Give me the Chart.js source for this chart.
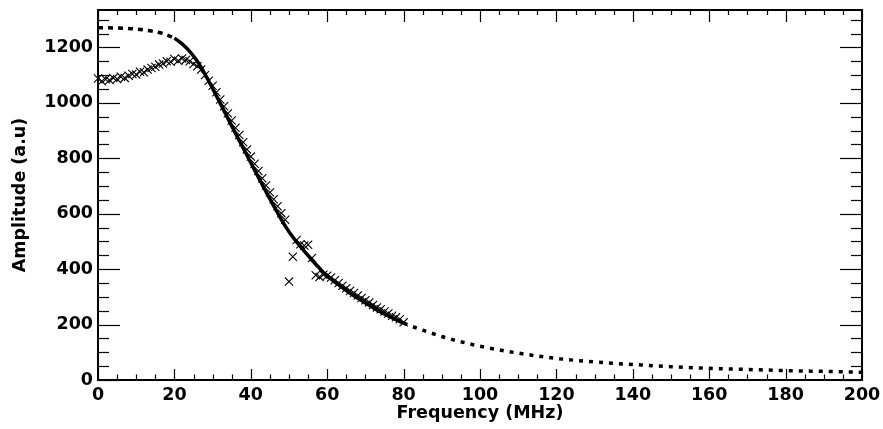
<!DOCTYPE html>
<html>
<head>
<meta charset="utf-8">
<script src="https://cdn.jsdelivr.net/npm/chart.js@4"></script>
<style>
  html, body { margin: 0; padding: 0; background: #fff; }
  #wrap { width: 883px; height: 429px; }
</style>
</head>
<body>
<div id="wrap"><canvas id="chart" width="883" height="429"></canvas></div>
<script>
// measured spectrum (one point per MHz)
const freq = [
  0, 1, 2, 3, 4, 5, 6, 7, 8, 9, 10, 11, 12, 13, 14, 15, 16, 17, 18, 19, 20,
  21, 22, 23, 24, 25, 26, 27, 28, 29, 30, 31, 32, 33, 34, 35, 36, 37, 38, 39, 40,
  41, 42, 43, 44, 45, 46, 47, 48, 49, 50, 51, 52, 53, 54, 55, 56, 57, 58, 59, 60,
  61, 62, 63, 64, 65, 66, 67, 68, 69, 70, 71, 72, 73, 74, 75, 76, 77, 78, 79, 80
];
const amp = [
  1088, 1078, 1085, 1082, 1090, 1086, 1094, 1090, 1098, 1104, 1102, 1112, 1110, 1120, 1126, 1130, 1138, 1142, 1150, 1148, 1158,
  1152, 1160, 1155, 1150, 1140, 1132, 1120, 1100, 1080, 1062, 1038, 1012, 988, 962, 936, 910, 884, 858, 832, 806,
  780, 754, 728, 702, 677, 652, 627, 602, 578, 355, 445, 505, 490, 485, 488, 440, 378, 372, 380, 376,
  370, 360, 350, 340, 331, 322, 314, 305, 296, 288, 280, 271, 262, 255, 247, 240, 232, 226, 219, 208
];

// fitted response curve
const fitFreq = [0, 5, 10, 14, 17, 20, 22, 24, 26, 28, 30, 32, 34, 36, 38, 40, 42, 44, 46, 48, 50,
  52, 54, 56, 58, 60, 63, 66, 70, 73, 76, 80, 85, 90, 95, 100, 110, 120, 130, 140, 150, 160, 170, 180, 190, 200];
const fitAmp = [1271, 1270, 1266, 1259, 1250, 1233, 1213, 1186, 1150, 1104, 1052, 998, 944, 890, 837, 784, 731, 679, 628, 579, 535,
  498, 465, 433, 403, 375, 343, 313, 278, 253, 231, 205, 180, 157, 138, 122, 97, 78, 65, 56, 48, 42, 38, 34, 31, 28];

// fit is solid only over the fitted range
const FIT_LO = 20;
const FIT_HI = 80;

const xTicks = [0, 20, 40, 60, 80, 100, 120, 140, 160, 180, 200];
const yTicks = [0, 200, 400, 600, 800, 1000, 1200];

const X_MIN = 0, X_MAX = 200, Y_MIN = 0, Y_MAX = 1335;

Chart.defaults.font.family = "'DejaVu Sans', sans-serif";
Chart.defaults.font.weight = 'bold';
Chart.defaults.font.size = 17.5;
Chart.defaults.color = '#000';

// ROOT style frame with inward ticks on all four sides
const frameTicks = {
  id: 'frameTicks',
  afterDraw(chart) {
    const { ctx, chartArea: a, scales: { x, y } } = chart;
    const seg = (x1, y1, x2, y2) => {
      ctx.beginPath();
      ctx.moveTo(x1, y1);
      ctx.lineTo(x2, y2);
      ctx.stroke();
    };
    ctx.save();
    ctx.strokeStyle = '#000';
    ctx.lineWidth = 1.2;
    for (let v = X_MIN; v <= X_MAX; v += 5) {
      const px = Math.round(x.getPixelForValue(v)) + 0.5;
      const major = v % 20 === 0;
      seg(px, a.bottom, px, a.bottom - (major ? 11 : 5.5));
      seg(px, a.top, px, a.top + (major ? 12 : 5));
    }
    for (let v = Y_MIN; v <= Y_MAX; v += 50) {
      const py = Math.round(y.getPixelForValue(v)) + 0.5;
      const major = v % 200 === 0;
      seg(a.left, py, a.left + (major ? 22 : 11), py);
      seg(a.right, py, a.right - (major ? 22 : 11), py);
    }
    ctx.lineWidth = 2;
    ctx.strokeRect(a.left, a.top, a.right - a.left, a.bottom - a.top);
    ctx.restore();
  }
};

const ctx = document.getElementById('chart');
new Chart(ctx, {
  type: 'scatter',
  data: {
    datasets: [
      {
        label: 'fit',
        type: 'line',
        data: fitFreq.map((f, i) => ({ x: f, y: fitAmp[i] })),
        borderColor: '#000',
        borderWidth: 3.5,
        borderCapStyle: 'butt',
        pointRadius: 0,
        cubicInterpolationMode: 'monotone',
        fill: false,
        segment: {
          borderDash: c => {
            const x0 = c.p0.parsed.x;
            if (x0 < FIT_LO) return [5, 5];
            if (x0 >= FIT_HI) return [4, 6];
            return [];
          }
        }
      },
      {
        label: 'data',
        data: freq.map((f, i) => ({ x: f, y: amp[i] })),
        pointStyle: 'crossRot',
        pointRadius: 5.8,
        pointBorderWidth: 1.1,
        borderColor: '#000',
        backgroundColor: '#000',
        clip: false
      }
    ]
  },
  options: {
    responsive: false,
    animation: false,
    layout: { padding: { top: 10, right: 21, left: 0, bottom: 0 } },
    plugins: {
      legend: { display: false },
      tooltip: { enabled: false }
    },
    scales: {
      x: {
        type: 'linear',
        min: X_MIN,
        max: X_MAX,
        afterBuildTicks: s => { s.ticks = xTicks.map(v => ({ value: v })); },
        afterFit: s => {
          s.height = 49;
          s.paddingLeft = 0;
          s.paddingRight = 0;
        },
        grid: { display: false, drawTicks: false },
        border: { display: false },
        ticks: { padding: 5, maxRotation: 0, autoSkip: false, callback: v => String(v) },
        title: {
          display: true,
          text: 'Frequency (MHz)',
          padding: { top: 0, bottom: 5 }
        }
      },
      y: {
        type: 'linear',
        min: Y_MIN,
        max: Y_MAX,
        afterBuildTicks: s => { s.ticks = yTicks.map(v => ({ value: v })); },
        afterFit: s => {
          s.width = 98;
          s.paddingTop = 0;
          s.paddingBottom = 0;
        },
        grid: { display: false, drawTicks: false },
        border: { display: false },
        ticks: { padding: 5, autoSkip: false, callback: v => String(v) },
        title: {
          display: true,
          text: 'Amplitude (a.u)',
          padding: { top: 10, bottom: 0 }
        }
      }
    }
  },
  plugins: [frameTicks]
});
</script>
</body>
</html>
